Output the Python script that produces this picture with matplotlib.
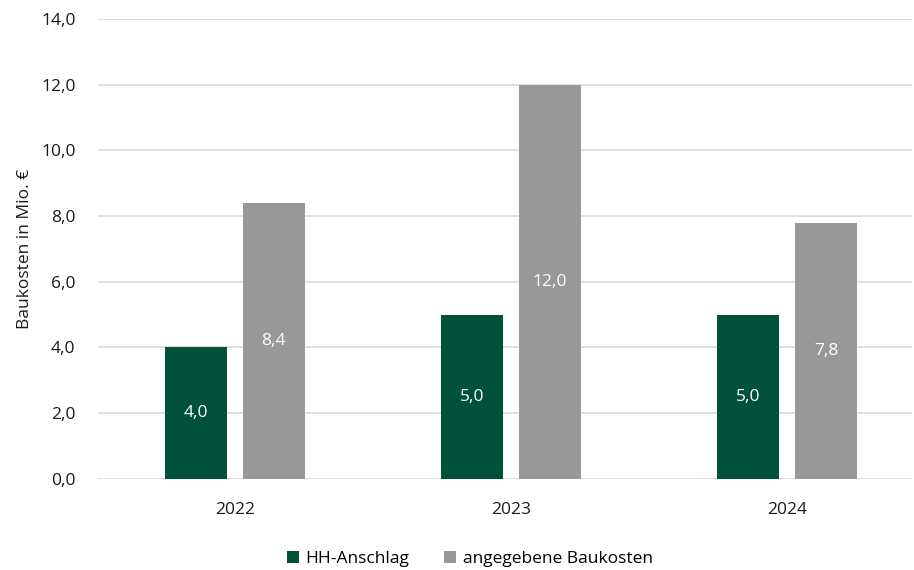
import matplotlib.pyplot as plt
import numpy as np

# Daten
jahre = ["2022", "2023", "2024"]
hh_anschlag = [4.0, 5.0, 5.0]
baukosten = [8.4, 12.0, 7.8]
y_ticks = [0, 2, 4, 6, 8, 10, 12, 14]

gruen = "#00513A"
grau = "#989898"

plt.rcParams['font.family'] = ['Open Sans', 'DejaVu Sans']

fig = plt.figure(figsize=(9.14, 5.70), dpi=100)
ax = fig.add_axes([0.107, 0.16, 0.891, 0.807])

x = np.arange(len(jahre))
w = 0.225
off = 0.141

b1 = ax.bar(x - off, hh_anschlag, w, color=gruen, label="HH-Anschlag", zorder=3)
b2 = ax.bar(x + off, baukosten, w, color=grau, label="angegebene Baukosten", zorder=3)

def fmt(v):
    return f"{v:.1f}".replace(".", ",")

for bars in (b1, b2):
    for r in bars:
        h = r.get_height()
        ax.text(r.get_x() + r.get_width() / 2, h / 2, fmt(h), ha="center", va="center",
                color="white", fontsize=12.5, zorder=4)

ax.set_ylim(0, 14)
ax.set_xlim(-0.496, 2.453)
ax.set_yticks(y_ticks)
ax.set_yticklabels([fmt(v) for v in y_ticks])
ax.set_xticks(x)
ax.set_xticklabels(jahre)
ax.tick_params(axis="both", length=0, labelsize=12.5, colors="#1a1a1a")
ax.tick_params(axis="y", pad=16)
ax.tick_params(axis="x", pad=17)
ax.set_ylabel("Baukosten in Mio. €", fontsize=12.5, color="#1a1a1a", labelpad=6)

ax.grid(axis="y", color="#D9D9D9", linewidth=1.2, zorder=0)
for s in ax.spines.values():
    s.set_visible(False)

ax.legend(loc="lower center", bbox_to_anchor=(0.457, -0.225), ncol=2, frameon=False,
          fontsize=12.5, handlelength=0.7, handleheight=0.7, handletextpad=0.4,
          columnspacing=2.0)

fig.savefig("out.png", dpi=100)
